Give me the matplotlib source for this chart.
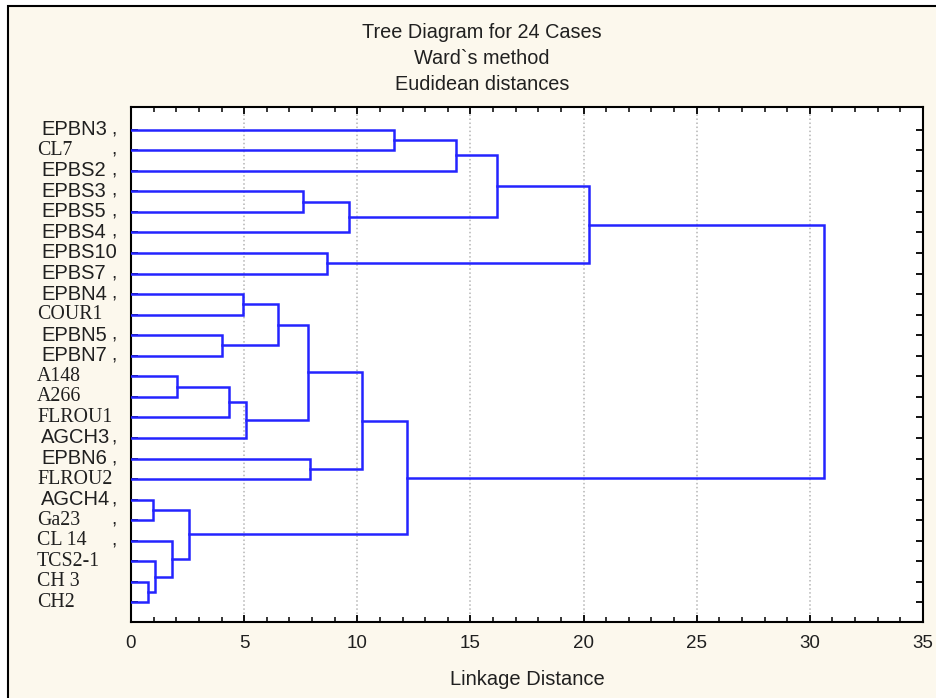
#!/usr/bin/env python3
# -*- coding: utf-8 -*-
"""Tree diagram (Ward, Euclidean) for 24 cases -> out.png"""
import matplotlib
matplotlib.use("Agg")
import matplotlib.pyplot as plt
from matplotlib import transforms
from matplotlib.patches import Rectangle
from matplotlib.ticker import MultipleLocator

# leaves, top to bottom
LEAVES = ["EPBN3", "CL7", "EPBS2", "EPBS3", "EPBS5", "EPBS4", "EPBS10", "EPBS7",
          "EPBN4", "COUR1", "EPBN5", "EPBN7", "A148", "A266", "FLROU1", "AGCH3",
          "EPBN6", "FLROU2", "AGCH4", "Ga23", "CL 14", "TCS2-1", "CH 3", "CH2"]
# labels printed in the serif face, and those followed by a comma
SERIF = ["CL7", "COUR1", "A148", "A266", "FLROU1", "FLROU2", "Ga23", "CL 14",
         "TCS2-1", "CH 3", "CH2"]
COMMA = ["EPBN3", "CL7", "EPBS2", "EPBS3", "EPBS5", "EPBS4", "EPBS7", "EPBN4",
         "EPBN5", "EPBN7", "AGCH3", "EPBN6", "AGCH4", "Ga23", "CL 14"]

# merges: (node a, node b, linkage distance); new node ids start at 24
MERGE_A = [22, 18, 21, 20, 12, 25, 10, 28, 8, 31, 32, 3, 34, 16, 6, 35, 36, 0, 40, 41, 43, 44, 45]
MERGE_B = [23, 19, 24, 26, 13, 27, 11, 14, 9, 15, 30, 4, 33, 17, 7, 5, 37, 1, 29, 2, 39, 38, 42]
MERGE_H = [0.76, 0.98, 1.07, 1.82, 2.04, 2.56, 4.03, 4.34, 4.95, 5.07, 6.50, 7.60,
           7.84, 7.90, 8.66, 9.62, 10.20, 11.61, 12.20, 14.37, 16.16, 20.25, 30.64]

TITLE_LINES = ["Tree Diagram for 24 Cases", "Ward`s method", "Eudidean distances"]

BLUE = "#2424ff"
CREAM = "#fcf8ed"
INK = "#202020"
SANS = "Liberation Sans"
SERIF_F = "Liberation Serif"

W, H = 937, 698
fig = plt.figure(figsize=(W / 100, H / 100), dpi=100, facecolor="white")
# cream panel with black frame (only top/left edge inside the picture)
fig.add_artist(Rectangle((8 / W, -0.05), 1.2, 1 - 6 / H + 0.05, transform=fig.transFigure,
                         facecolor=CREAM, edgecolor="black", lw=1.5, zorder=-10))

ax = fig.add_axes([131 / W, 1 - 622 / H, (923 - 131) / W, (622 - 107) / H])
ax.set_facecolor("white")

# dendrogram
ypos = {i: float(i) for i in range(len(LEAVES))}
xpos = {i: 0.0 for i in range(len(LEAVES))}
for k, (a, b, h) in enumerate(zip(MERGE_A, MERGE_B, MERGE_H)):
    node = len(LEAVES) + k
    ax.plot([xpos[a], h, h, xpos[b]], [ypos[a], ypos[a], ypos[b], ypos[b]],
            color=BLUE, lw=1.8, solid_joinstyle="miter", zorder=3)
    ypos[node] = (ypos[a] + ypos[b]) / 2
    xpos[node] = h

ax.set_xlim(0, 35)
ax.set_ylim(len(LEAVES) - 0.05, -1.1)
ax.xaxis.set_major_locator(MultipleLocator(5))
ax.xaxis.set_minor_locator(MultipleLocator(1))
ax.set_yticks(range(len(LEAVES)))
ax.set_yticklabels([])
ax.tick_params(which="both", direction="in", top=True, right=True, color="black")
ax.tick_params(which="major", length=5, width=1.3)
ax.tick_params(which="minor", length=3.5, width=1.1)
ax.tick_params(axis="x", pad=9, labelsize=13.5, labelcolor=INK)
for lab in ax.get_xticklabels():
    lab.set_fontfamily(SANS)
for s in ax.spines.values():
    s.set_linewidth(1.5)
ax.grid(axis="x", which="major", linestyle=":", color="#b4b4b4", lw=1.1)
ax.set_axisbelow(True)

ax.set_xlabel("Linkage Distance", fontsize=14.5, family=SANS, color=INK, labelpad=13)

# leaf labels
tr = transforms.blended_transform_factory(ax.transAxes, ax.transData)
for i, name in enumerate(LEAVES):
    serif = name in SERIF
    ax.text(((37 if serif else 41) - 131) / 792, i, name, transform=tr,
            ha="left", va="center", fontsize=14.3 if serif else 14.5, color=INK,
            family=SERIF_F if serif else SANS, clip_on=False)
    if name in COMMA:
        ax.text((111 - 131) / 792, i, ",", transform=tr, ha="left", va="center",
                fontsize=14, family=SANS, color=INK, clip_on=False)

for j, line in enumerate(TITLE_LINES):
    fig.text(482 / W, 1 - (32 + 26 * j) / H, line, ha="center", va="center",
             fontsize=14.3, family=SANS, color=INK)

fig.savefig("out.png", dpi=100, facecolor=fig.get_facecolor())
